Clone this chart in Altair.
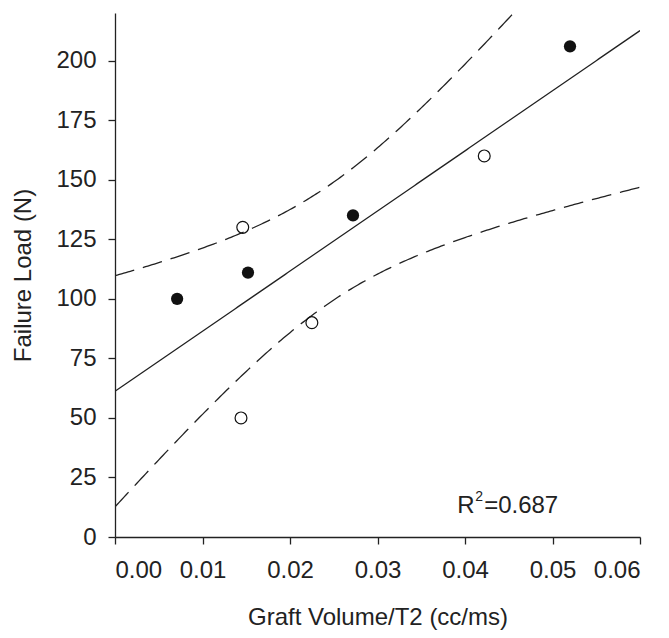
import altair as alt
import numpy as np
import pandas as pd

# Data
x_vals = [0.0071, 0.0144, 0.0146, 0.0152, 0.0225, 0.0272, 0.0422, 0.0520]
y_vals = [100, 50, 130, 111, 90, 135, 160, 206]
groups = ["filled", "open", "open", "filled", "open", "filled", "open", "filled"]
x_ticks = [0.0, 0.01, 0.02, 0.03, 0.04, 0.05, 0.06]
y_ticks = [0, 25, 50, 75, 100, 125, 150, 175, 200]
r2_parts = ["R", "2", "=0.687"]
r2_pos = [0.0391, 10]

pts = pd.DataFrame({"x": x_vals, "y": y_vals, "g": groups})

# Least-squares fit and 95% confidence band of the mean (derived from the points)
xa = np.array(x_vals); ya = np.array(y_vals)
n = len(xa)
mx, my = xa.mean(), ya.mean()
sxx = ((xa - mx) ** 2).sum()
slope = ((xa - mx) * (ya - my)).sum() / sxx
icpt = my - slope * mx
resid = ya - (icpt + slope * xa)
s = np.sqrt((resid ** 2).sum() / (n - 2))
t975 = 2.4469
grid = np.linspace(0, 0.06, 241)
fit = icpt + slope * grid
half = t975 * s * np.sqrt(1.0 / n + (grid - mx) ** 2 / sxx)
band = pd.DataFrame({"x": grid, "fit": fit, "lo": fit - half, "hi": fit + half})

xscale = alt.Scale(domain=[0, 0.06], nice=False, zero=False)
yscale = alt.Scale(domain=[0, 220], nice=False)

xaxis = alt.Axis(values=x_ticks, format=".2f", title="Graft Volume/T2 (cc/ms)",
                 grid=False, tickSize=7, labelPadding=14, titlePadding=23)
yaxis = alt.Axis(values=y_ticks, title="Failure Load (N)", grid=False,
                 tickSize=7, labelPadding=12, titlePadding=20)

base_band = alt.Chart(band)
dash = [20, 9]

fit_line = base_band.mark_line(color="#222", strokeWidth=1.3, clip=True).encode(
    x=alt.X("x:Q", scale=xscale, axis=xaxis),
    y=alt.Y("fit:Q", scale=yscale, axis=yaxis),
)
lo_line = base_band.mark_line(color="#222", strokeWidth=1.3, strokeDash=dash, clip=True).encode(
    x=alt.X("x:Q", scale=xscale), y=alt.Y("lo:Q", scale=yscale)
)
hi_line = base_band.mark_line(color="#222", strokeWidth=1.3, strokeDash=dash, clip=True).encode(
    x=alt.X("x:Q", scale=xscale), y=alt.Y("hi:Q", scale=yscale)
)

filled = alt.Chart(pts).transform_filter(alt.datum.g == "filled").mark_point(
    shape="circle", filled=True, color="#111", size=150, opacity=1
).encode(x=alt.X("x:Q", scale=xscale), y=alt.Y("y:Q", scale=yscale))

opened = alt.Chart(pts).transform_filter(alt.datum.g == "open").mark_point(
    shape="circle", filled=False, color="#111", size=140, strokeWidth=1.2, opacity=1
).encode(x=alt.X("x:Q", scale=xscale), y=alt.Y("y:Q", scale=yscale))

def r2_text(part, size, dx, dy):
    df = pd.DataFrame({"x": [r2_pos[0]], "y": [r2_pos[1]], "t": [part]})
    return alt.Chart(df).mark_text(
        align="left", baseline="alphabetic", fontSize=size, color="#222",
        font="Liberation Sans", dx=dx, dy=dy
    ).encode(x=alt.X("x:Q", scale=xscale), y=alt.Y("y:Q", scale=yscale), text="t:N")

t_r = r2_text(r2_parts[0], 24, 0, 0)
t_sup = r2_text(r2_parts[1], 14, 18, -12)
t_rest = r2_text(r2_parts[2], 24, 27, 0)

chart = alt.layer(fit_line, lo_line, hi_line, opened, filled, t_r, t_sup, t_rest).properties(
    width=525, height=524,
    autosize=alt.AutoSizeParams(type="none"),
    padding={"left": 107, "top": 5, "right": 20, "bottom": 93},
).configure_view(stroke=None).configure_axis(
    domainColor="#222", tickColor="#222", labelColor="#222", titleColor="#222",
    labelFont="Liberation Sans", titleFont="Liberation Sans",
    labelFontSize=24, titleFontSize=24, titleFontWeight="normal",
    domainWidth=1.3, tickWidth=1.3,
)

chart.save("out.html", embed_options={"renderer": "svg", "actions": False})
